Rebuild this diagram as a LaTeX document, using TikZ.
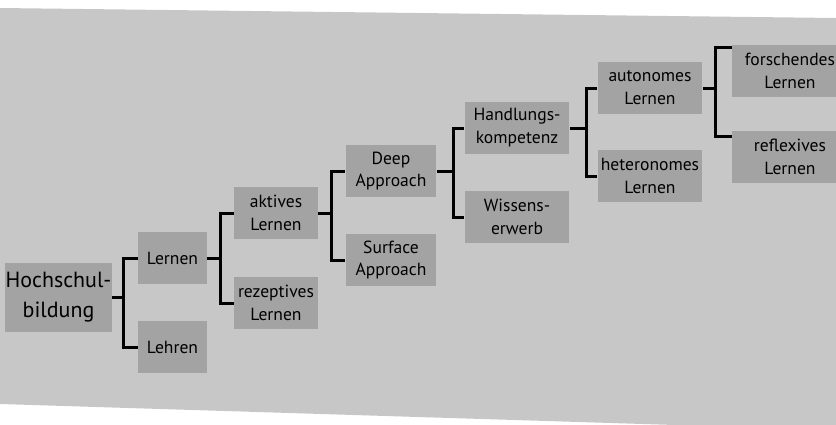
\documentclass[tikz,border=0pt]{standalone}
\usepackage{fontspec}
\setmainfont{PT Sans}
\usetikzlibrary{positioning,calc}

\begin{document}
\begin{tikzpicture}[
    x=0.02cm, y=-0.02cm,
    paper/.style={fill=black!22},
    item/.style={
        fill=black!36,
        align=center,
        inner sep=0pt,
        minimum height=1.03cm,
        font=\fontsize{10}{13}\selectfont
    },
    brace/.style={line width=1.7pt, black}
]

% --- Frame ---
\useasboundingbox (0,0) rectangle (836,424);
\clip (0,0) rectangle (836,424);
\fill[paper] (0,8) -- (836,18) -- (836,430) -- (0,404) -- cycle;

% --- Column x-positions ---
\def\xA{58.5}
\def\xB{172.5}
\def\xC{276}
\def\xD{391}
\def\xE{517}
\def\xF{650}
\def\xG{790}

% --- Nodes ---
\node[item, minimum width=2.14cm, minimum height=1.38cm,
      font=\fontsize{12.5}{17}\selectfont] (hoch) at (\xA, 297) {Hochschul-\\bildung};

\node[item, minimum width=1.38cm] (lern) at (\xB, 258) {Lernen};
\node[item, minimum width=1.38cm] (lehr) at (\xB, 347) {Lehren};

\node[item, minimum width=1.68cm] (aktiv) at (\xC, 213) {aktives\\Lernen};
\node[item, minimum width=1.68cm] (rezep) at (\xC, 303) {rezeptives\\Lernen};

\node[item, minimum width=1.82cm] (deep) at (\xD, 171) {Deep\\Approach};
\node[item, minimum width=1.82cm] (surf) at (\xD, 260) {Surface\\Approach};

\node[item, minimum width=2.1cm] (handl) at (\xE, 128) {Handlungs-\\kompetenz};
\node[item, minimum width=2.1cm] (wiss)  at (\xE, 217) {Wissens-\\erwerb};

\node[item, minimum width=2.1cm] (auto)   at (\xF, 88)  {autonomes\\Lernen};
\node[item, minimum width=2.1cm] (hetero) at (\xF, 176) {heteronomes\\Lernen};

\node[item, minimum width=2.32cm] (forsch) at (\xG, 71)  {forschendes\\Lernen};
\node[item, minimum width=2.32cm] (refl)   at (\xG, 157) {reflexives\\Lernen};

% --- Brackets ---
\draw[brace] (hoch.east) -- ++(11,0) coordinate (b1);
\draw[brace] (b1) |- (lern.west);
\draw[brace] (b1) |- (lehr.west);

\draw[brace] (lern.east) -- ++(13,0) coordinate (b2);
\draw[brace] (b2) |- (aktiv.west);
\draw[brace] (b2) |- (rezep.west);

\draw[brace] (aktiv.east) -- ++(13,0) coordinate (b3);
\draw[brace] (b3) |- (deep.west);
\draw[brace] (b3) |- (surf.west);

\draw[brace] (deep.east) -- ++(17,0) coordinate (b4);
\draw[brace] (b4) |- (handl.west);
\draw[brace] (b4) |- (wiss.west);

\draw[brace] (handl.east) -- ++(17,0) coordinate (b5);
\draw[brace] (b5) |- (auto.west);
\draw[brace] (b5) |- (hetero.west);

\draw[brace] (auto.east) -- ++(13,0) coordinate (b6);
\draw[brace] (b6) |- ([yshift=-0.06cm]forsch.north west);
\draw[brace] (b6) |- ([yshift=-0.12cm]refl.north west);

\end{tikzpicture}
\end{document}
